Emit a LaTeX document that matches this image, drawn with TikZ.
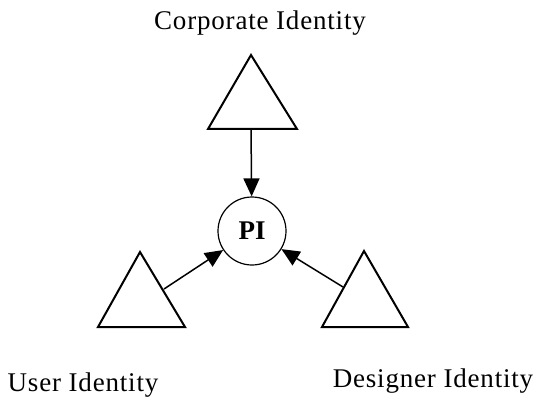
\documentclass[tikz,border=0pt]{standalone}
\usepackage{fontspec}
\setmainfont{Liberation Serif}[LetterSpace=3]
\newfontfamily\hubfont{Liberation Serif}
\usetikzlibrary{arrows.meta}
\begin{document}
\begin{tikzpicture}[x=1pt,y=-1pt,
  tri/.style={draw=black,line width=2pt,line join=miter},
  link/.style={draw=black,line width=1.5pt,-{Triangle[length=18pt,width=16pt]}},
  hub/.style={circle,draw=black,line width=1.2pt,minimum size=68pt,inner sep=0pt,font=\hubfont\fontsize{27}{30}\selectfont\bfseries},
  lbl/.style={font=\fontsize{27}{30}\selectfont,inner sep=0pt,anchor=base}]
\useasboundingbox (0,0) rectangle (534,398);
% central node
\node[hub] (PI) at (252,231) {PI};
% the three identity triangles
\draw[tri] (251,55) -- (297,129) -- (208,129) -- cycle;
\draw[tri] (140,252) -- (185,327) -- (98,327) -- cycle;
\draw[tri] (364,251) -- (408,327) -- (322,327) -- cycle;
% arrow starting points on the triangles
\coordinate (corp) at (251,129);
\coordinate (user) at (164,289);
\coordinate (des) at (343,287);
\draw[link] (corp) -- (PI);
\draw[link] (user) -- (PI);
\draw[link] (des) -- (PI);
% labels
\node[lbl] (lc) at (260,30) {Corporate Identity};
\node[lbl] (lu) at (83,391) {User Identity};
\node[lbl] (ld) at (433,387) {Designer Identity};
\end{tikzpicture}
\end{document}
